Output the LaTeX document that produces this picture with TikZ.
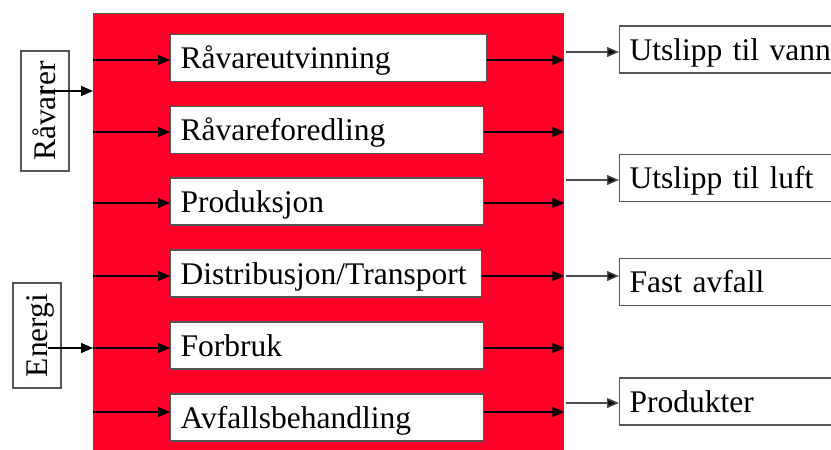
\documentclass[tikz,border=0pt]{standalone}
\usepackage{fontspec}
\setmainfont{Liberation Serif}
\usetikzlibrary{arrows.meta}
\definecolor{procred}{RGB}{255,0,40}
\definecolor{edgegray}{RGB}{85,85,85}
\begin{document}
\begin{tikzpicture}[x=1pt,y=-1pt,
  every node/.style={font=\fontsize{31.5pt}{36pt}\selectfont},
  stagebox/.style={draw=edgegray, line width=1.3pt, fill=white, anchor=west,
    text width=293pt, inner xsep=10pt, inner ysep=0pt, minimum height=47pt,
    text height=21pt, text depth=0pt, align=left},
  outbox/.style={draw=edgegray, line width=1.3pt, fill=white, anchor=west,
    text width=220pt, inner xsep=10pt, inner ysep=0pt, minimum height=47pt,
    text height=21pt, text depth=0pt, align=left},
  inbox/.style={draw=edgegray, line width=1.3pt, fill=white, rotate=90,
    minimum height=48pt, inner sep=0pt, text height=21pt, text depth=0pt},
  flow/.style={draw=black, line width=1.4pt, -{Triangle[length=12pt,width=10pt]}},
  outflow/.style={draw=black!70, line width=1.4pt, -{Triangle[length=12pt,width=10pt,fill=black]}},
]
\useasboundingbox (0,0) rectangle (831,450);
\clip (0,0) rectangle (831,450);

% life-cycle block
\node[draw=edgegray, line width=1.3pt, fill=procred, anchor=north west,
      minimum width=470pt, minimum height=460pt, inner sep=0pt] (cycle) at (93,13) {};

% life-cycle stages
\node[stagebox, text width=296pt] (s1) at (170,58)    {Råvareutvinning};
\node[stagebox] (s2) at (170,130)   {Råvareforedling};
\node[stagebox] (s3) at (170,201.5) {Produksjon};
\node[stagebox, text width=291pt] (s4) at (170,273.5) {Distribusjon/Transport};
\node[stagebox] (s5) at (170,345.5) {Forbruk};
\node[stagebox] (s6) at (170,417.5) {Avfallsbehandling};

% inputs
\node[inbox, minimum width=120pt] (raw) at (45,111)    {Råvarer};
\node[inbox, minimum width=105pt] (energy) at (37,335.5) {Energi};

% outputs
\node[outbox] (o1) at (619,49.5)  {Utslipp til vann};
\node[outbox] (o2) at (619,178)   {Utslipp til luft};
\node[outbox] (o3) at (619,282)   {Fast avfall};
\node[outbox] (o4) at (619,401.5) {Produkter};

% input arrows
\coordinate (rawin) at (40,91);
\coordinate (energyin) at (48,348);
\draw[flow] (rawin) -- (rawin -| cycle.west);
\draw[flow] (energyin) -- (energyin -| cycle.west);

% arrows into and out of each stage
\foreach \s/\dy in {s1/2, s2/2, s3/1.5, s4/2.5, s5/2.5, s6/-5.5} {
  \draw[flow] ([yshift=-\dy pt]\s.west -| cycle.west) -- ([yshift=-\dy pt]\s.west);
  \draw[flow] ([yshift=-\dy pt]\s.west -| \s.east) -- ([yshift=-\dy pt]\s.west -| cycle.east);
}

% output arrows
\foreach \o/\dy in {o1/2.5, o2/2, o3/-6, o4/1.5} {
  \draw[outflow] ([yshift=-\dy pt]\o.west -| cycle.east) ++(2pt,0) -- ([yshift=-\dy pt]\o.west);
}
\end{tikzpicture}
\end{document}
